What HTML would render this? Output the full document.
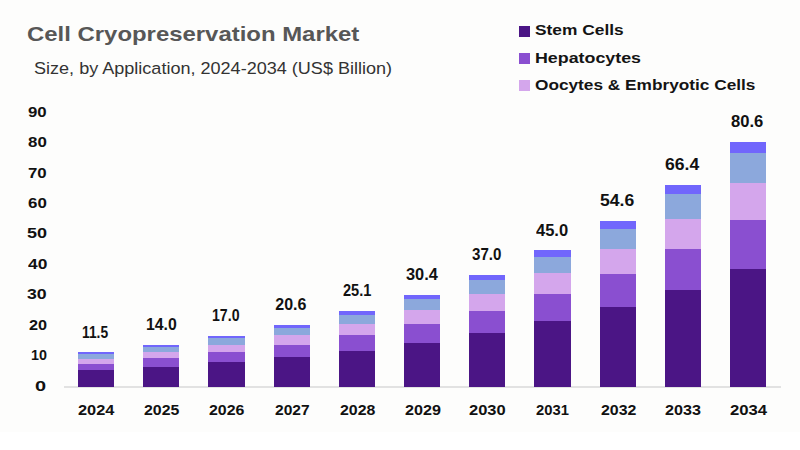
<!DOCTYPE html>
<html><head><meta charset="utf-8"><style>
html,body{margin:0;padding:0;}
body{width:800px;height:450px;position:relative;overflow:hidden;background:#fff;font-family:"Liberation Sans",sans-serif;}
.t{position:absolute;white-space:nowrap;line-height:1;}
.t span{display:inline-block;transform-origin:0 0;}
.bg{position:absolute;left:0;top:0;width:800px;height:432px;background:#fdfdfc;}
.title{font-size:21px;font-weight:bold;color:#575757;}
.sub{font-size:16.3px;color:#333;}
.lt{font-size:15.5px;font-weight:bold;color:#141414;}
.num15{font-size:15px;font-weight:bold;color:#111;}
.num16{font-size:16px;font-weight:bold;color:#111;}
.lg{position:absolute;left:519px;width:10.6px;height:10.6px;}
.seg{position:absolute;}
.axis{position:absolute;left:64px;top:386px;width:717px;height:2px;background:#e2e2e2;}
</style></head><body>
<div class="bg"></div><div class="lg" style="top:26px;background:#4b1585"></div><div class="lg" style="top:53px;background:#8a4fd0"></div><div class="lg" style="top:80px;background:#d4a6ec"></div><div class="axis"></div><div class="seg" style="left:78.00px;top:370.09px;width:36.20px;height:16.81px;background:#4b1585"></div><div class="seg" style="left:78.00px;top:363.26px;width:36.20px;height:7.23px;background:#8a4fd0"></div><div class="seg" style="left:78.00px;top:358.12px;width:36.20px;height:5.55px;background:#d4a6ec"></div><div class="seg" style="left:78.00px;top:353.91px;width:36.20px;height:4.61px;background:#8ca8dc"></div><div class="seg" style="left:78.00px;top:352.43px;width:36.20px;height:1.88px;background:#7166fc"></div><div class="seg" style="left:143.20px;top:366.42px;width:36.20px;height:20.48px;background:#4b1585"></div><div class="seg" style="left:143.20px;top:358.06px;width:36.20px;height:8.76px;background:#8a4fd0"></div><div class="seg" style="left:143.20px;top:351.76px;width:36.20px;height:6.70px;background:#d4a6ec"></div><div class="seg" style="left:143.20px;top:346.61px;width:36.20px;height:5.55px;background:#8ca8dc"></div><div class="seg" style="left:143.20px;top:344.80px;width:36.20px;height:2.21px;background:#7166fc"></div><div class="seg" style="left:208.40px;top:362.02px;width:36.20px;height:24.88px;background:#4b1585"></div><div class="seg" style="left:208.40px;top:351.82px;width:36.20px;height:10.60px;background:#8a4fd0"></div><div class="seg" style="left:208.40px;top:344.14px;width:36.20px;height:8.08px;background:#d4a6ec"></div><div class="seg" style="left:208.40px;top:337.86px;width:36.20px;height:6.68px;background:#8ca8dc"></div><div class="seg" style="left:208.40px;top:335.65px;width:36.20px;height:2.61px;background:#7166fc"></div><div class="seg" style="left:273.60px;top:356.73px;width:36.20px;height:30.17px;background:#4b1585"></div><div class="seg" style="left:273.60px;top:344.33px;width:36.20px;height:12.80px;background:#8a4fd0"></div><div class="seg" style="left:273.60px;top:335.00px;width:36.20px;height:9.74px;background:#d4a6ec"></div><div class="seg" style="left:273.60px;top:327.36px;width:36.20px;height:8.04px;background:#8ca8dc"></div><div class="seg" style="left:273.60px;top:324.67px;width:36.20px;height:3.09px;background:#7166fc"></div><div class="seg" style="left:338.80px;top:350.12px;width:36.20px;height:36.78px;background:#4b1585"></div><div class="seg" style="left:338.80px;top:334.97px;width:36.20px;height:15.55px;background:#8a4fd0"></div><div class="seg" style="left:338.80px;top:323.56px;width:36.20px;height:11.81px;background:#d4a6ec"></div><div class="seg" style="left:338.80px;top:314.23px;width:36.20px;height:9.73px;background:#8ca8dc"></div><div class="seg" style="left:338.80px;top:310.94px;width:36.20px;height:3.69px;background:#7166fc"></div><div class="seg" style="left:404.00px;top:342.34px;width:36.20px;height:44.56px;background:#4b1585"></div><div class="seg" style="left:404.00px;top:323.95px;width:36.20px;height:18.79px;background:#8a4fd0"></div><div class="seg" style="left:404.00px;top:310.10px;width:36.20px;height:14.25px;background:#d4a6ec"></div><div class="seg" style="left:404.00px;top:298.77px;width:36.20px;height:11.73px;background:#8ca8dc"></div><div class="seg" style="left:404.00px;top:294.78px;width:36.20px;height:4.39px;background:#7166fc"></div><div class="seg" style="left:469.20px;top:332.64px;width:36.20px;height:54.26px;background:#4b1585"></div><div class="seg" style="left:469.20px;top:310.22px;width:36.20px;height:22.83px;background:#8a4fd0"></div><div class="seg" style="left:469.20px;top:293.33px;width:36.20px;height:17.29px;background:#d4a6ec"></div><div class="seg" style="left:469.20px;top:279.52px;width:36.20px;height:14.21px;background:#8ca8dc"></div><div class="seg" style="left:469.20px;top:274.65px;width:36.20px;height:5.27px;background:#7166fc"></div><div class="seg" style="left:534.40px;top:320.90px;width:36.20px;height:66.00px;background:#4b1585"></div><div class="seg" style="left:534.40px;top:293.58px;width:36.20px;height:27.72px;background:#8a4fd0"></div><div class="seg" style="left:534.40px;top:273.00px;width:36.20px;height:20.97px;background:#d4a6ec"></div><div class="seg" style="left:534.40px;top:256.18px;width:36.20px;height:17.23px;background:#8ca8dc"></div><div class="seg" style="left:534.40px;top:250.25px;width:36.20px;height:6.33px;background:#7166fc"></div><div class="seg" style="left:599.60px;top:306.80px;width:36.20px;height:80.10px;background:#4b1585"></div><div class="seg" style="left:599.60px;top:273.61px;width:36.20px;height:33.59px;background:#8a4fd0"></div><div class="seg" style="left:599.60px;top:248.61px;width:36.20px;height:25.40px;background:#d4a6ec"></div><div class="seg" style="left:599.60px;top:228.17px;width:36.20px;height:20.84px;background:#8ca8dc"></div><div class="seg" style="left:599.60px;top:220.97px;width:36.20px;height:7.60px;background:#7166fc"></div><div class="seg" style="left:664.80px;top:289.47px;width:36.20px;height:97.43px;background:#4b1585"></div><div class="seg" style="left:664.80px;top:249.06px;width:36.20px;height:40.80px;background:#8a4fd0"></div><div class="seg" style="left:664.80px;top:218.63px;width:36.20px;height:30.83px;background:#d4a6ec"></div><div class="seg" style="left:664.80px;top:193.75px;width:36.20px;height:25.29px;background:#8ca8dc"></div><div class="seg" style="left:664.80px;top:184.98px;width:36.20px;height:9.17px;background:#7166fc"></div><div class="seg" style="left:730.00px;top:268.61px;width:36.20px;height:118.29px;background:#4b1585"></div><div class="seg" style="left:730.00px;top:219.53px;width:36.20px;height:49.49px;background:#8a4fd0"></div><div class="seg" style="left:730.00px;top:182.56px;width:36.20px;height:37.37px;background:#d4a6ec"></div><div class="seg" style="left:730.00px;top:152.32px;width:36.20px;height:30.64px;background:#8ca8dc"></div><div class="seg" style="left:730.00px;top:141.67px;width:36.20px;height:11.05px;background:#7166fc"></div><div class="t title" style="left:27.26px;top:22.90px"><span style="transform:scale(1.1388,1.0000)">Cell Cryopreservation Market</span></div><div class="t sub" style="left:33.64px;top:60.00px"><span style="transform:scale(1.1083,1.0000)">Size, by Application, 2024-2034 (US$ Billion)</span></div><div class="t lt" style="left:535.19px;top:22.30px"><span style="transform:scale(1.1186,1.0000)">Stem Cells</span></div><div class="t lt" style="left:535.17px;top:49.70px"><span style="transform:scale(1.1500,1.0000)">Hepatocytes</span></div><div class="t lt" style="left:535.19px;top:76.70px"><span style="transform:scale(1.1124,1.0000)">Oocytes &amp; Embryotic Cells</span></div><div class="t num15" style="left:35.37px;top:377.70px"><span style="transform:scale(1.3286,1.0000)">0</span></div><div class="t num15" style="left:30.75px;top:347.25px"><span style="transform:scale(0.9533,1.0000)">10</span></div><div class="t num15" style="left:28.70px;top:316.80px"><span style="transform:scale(1.0813,1.0000)">20</span></div><div class="t num15" style="left:27.12px;top:286.35px"><span style="transform:scale(1.1800,1.0000)">30</span></div><div class="t num15" style="left:27.50px;top:255.90px"><span style="transform:scale(1.1562,1.0000)">40</span></div><div class="t num15" style="left:26.80px;top:225.45px"><span style="transform:scale(1.2000,1.0000)">50</span></div><div class="t num15" style="left:28.00px;top:195.00px"><span style="transform:scale(1.1250,1.0000)">60</span></div><div class="t num15" style="left:28.08px;top:164.55px"><span style="transform:scale(1.1200,1.0000)">70</span></div><div class="t num15" style="left:28.00px;top:134.10px"><span style="transform:scale(1.1250,1.0000)">80</span></div><div class="t num15" style="left:28.10px;top:103.65px"><span style="transform:scale(1.1187,1.0000)">90</span></div><div class="t num15" style="left:78.20px;top:402.20px"><span style="transform:scale(1.0909,1.0000)">2024</span></div><div class="t num15" style="left:143.80px;top:402.20px"><span style="transform:scale(1.0576,1.0000)">2025</span></div><div class="t num15" style="left:208.75px;top:402.20px"><span style="transform:scale(1.0606,1.0000)">2026</span></div><div class="t num15" style="left:274.50px;top:402.20px"><span style="transform:scale(1.0379,1.0000)">2027</span></div><div class="t num15" style="left:339.50px;top:402.20px"><span style="transform:scale(1.0606,1.0000)">2028</span></div><div class="t num15" style="left:404.50px;top:402.20px"><span style="transform:scale(1.0758,1.0000)">2029</span></div><div class="t num15" style="left:468.75px;top:402.20px"><span style="transform:scale(1.0985,1.0000)">2030</span></div><div class="t num15" style="left:536.25px;top:402.20px"><span style="transform:scale(0.9848,1.0000)">2031</span></div><div class="t num15" style="left:600.50px;top:402.20px"><span style="transform:scale(1.0606,1.0000)">2032</span></div><div class="t num15" style="left:665.00px;top:402.20px"><span style="transform:scale(1.0758,1.0000)">2033</span></div><div class="t num15" style="left:729.50px;top:402.20px"><span style="transform:scale(1.1136,1.0000)">2034</span></div><div class="t num16" style="left:82.14px;top:324.83px"><span style="transform:scale(0.8621,1.0000)">11.5</span></div><div class="t num16" style="left:145.91px;top:317.20px"><span style="transform:scale(0.9867,1.0000)">14.0</span></div><div class="t num16" style="left:212.32px;top:308.05px"><span style="transform:scale(0.8833,1.0000)">17.0</span></div><div class="t num16" style="left:275.30px;top:297.07px"><span style="transform:scale(1.0000,1.0000)">20.6</span></div><div class="t num16" style="left:342.70px;top:283.35px"><span style="transform:scale(0.9097,1.0000)">25.1</span></div><div class="t num16" style="left:405.50px;top:267.18px"><span style="transform:scale(1.0226,1.0000)">30.4</span></div><div class="t num16" style="left:472.00px;top:247.05px"><span style="transform:scale(0.9419,1.0000)">37.0</span></div><div class="t num16" style="left:536.20px;top:222.65px"><span style="transform:scale(1.0323,1.0000)">45.0</span></div><div class="t num16" style="left:600.10px;top:193.37px"><span style="transform:scale(1.0967,1.0000)">54.6</span></div><div class="t num16" style="left:664.70px;top:157.38px"><span style="transform:scale(1.0967,1.0000)">66.4</span></div><div class="t num16" style="left:731.30px;top:114.07px"><span style="transform:scale(1.0355,1.0000)">80.6</span></div>
</body></html>
